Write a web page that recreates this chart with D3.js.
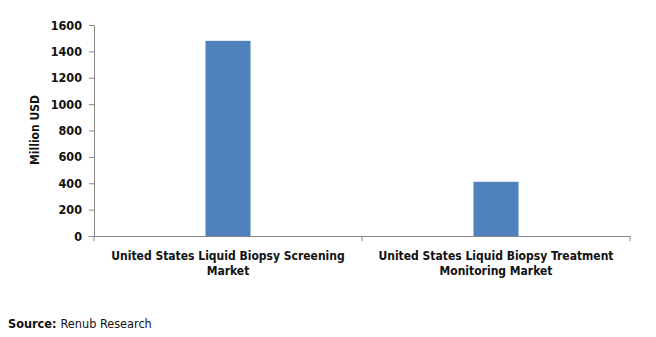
<!DOCTYPE html>
<html><head><meta charset="utf-8">
<script src="https://cdn.jsdelivr.net/npm/d3@7"></script>
<style>body{margin:0;background:#fff}svg{display:block}text{font-family:"DejaVu Sans Condensed","DejaVu Sans",sans-serif}</style>
</head><body><svg id="c" width="656" height="337"></svg>
<script>
const categories = ["United States Liquid Biopsy Screening Market", "United States Liquid Biopsy Treatment Monitoring Market"];
const categoryLines = [["United States Liquid Biopsy Screening", "Market"], ["United States Liquid Biopsy Treatment", "Monitoring Market"]];
const values = [1480, 411];
const yTicks = [0, 200, 400, 600, 800, 1000, 1200, 1400, 1600];

const svg = d3.select("#c");
const m = {l: 94, r: 26, t: 25, b: 101};
const W = 656 - m.l - m.r, H = 337 - m.t - m.b;
const g = svg.append("g").attr("transform", `translate(${m.l},${m.t})`);
const x = d3.scaleBand().domain(categories).range([0, W]).padding(0);
const y = d3.scaleLinear().domain([0, 1600]).range([H, 0]);
const barW = x.bandwidth() * 0.168;
const axisCol = "#868686";
const fs = 12;

g.selectAll("rect.bar").data(values).join("rect")
  .attr("x", (d, i) => x(categories[i]) + x.bandwidth() / 2 - barW / 2)
  .attr("y", d => y(d)).attr("width", barW).attr("height", d => H - y(d))
  .attr("fill", "#4f81bd");

const ya = g.append("g").call(d3.axisLeft(y).tickValues(yTicks).tickFormat(d3.format("d")).tickSize(5).tickSizeOuter(0).tickPadding(7));
ya.select(".domain").attr("stroke", axisCol);
ya.selectAll(".tick line").attr("stroke", axisCol);
ya.selectAll(".tick text").attr("font-size", 12.5).attr("font-weight", "bold").attr("fill", "#111");

g.append("line").attr("x1", 0).attr("x2", W).attr("y1", H + 0.5).attr("y2", H + 0.5).attr("stroke", axisCol);
const bounds = [0, x.bandwidth(), W];
g.selectAll("line.xt").data(bounds).join("line").attr("class", "xt")
  .attr("x1", d => d).attr("x2", d => d).attr("y1", H).attr("y2", H + 5).attr("stroke", axisCol);

categories.forEach((c, i) => {
  const t = g.append("text").attr("x", x(c) + x.bandwidth() / 2).attr("y", H + 24)
    .attr("text-anchor", "middle").attr("font-size", fs).attr("font-weight", "bold").attr("fill", "#111");
  categoryLines[i].forEach((ln, j) => t.append("tspan").attr("x", x(c) + x.bandwidth() / 2).attr("dy", j ? 15 : 0).text(ln));
});

svg.append("text").attr("transform", "translate(39,130) rotate(-90)").attr("text-anchor", "middle")
  .attr("font-size", fs).attr("font-weight", "bold").attr("fill", "#111").text("Million USD");

const s = svg.append("text").attr("x", 8).attr("y", 328).attr("font-size", 12.6).attr("fill", "#111");
s.append("tspan").attr("font-weight", "bold").text("Source: ");
s.append("tspan").text("Renub Research");
</script></body></html>
